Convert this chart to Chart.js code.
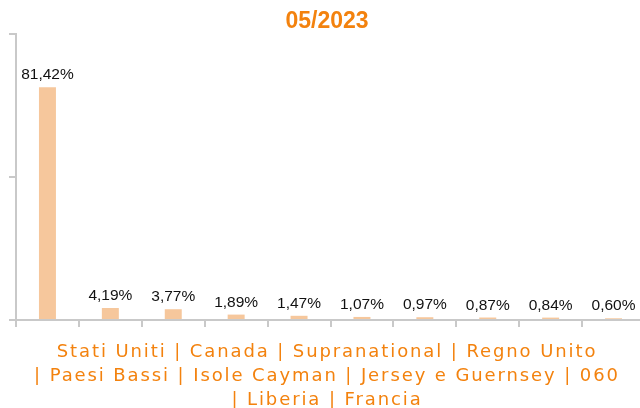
<!DOCTYPE html>
<html>
<head>
<meta charset="utf-8">
<script src="https://cdn.jsdelivr.net/npm/chart.js@4/dist/chart.umd.min.js"></script>
<style>
html,body{margin:0;padding:0;background:#fff;overflow:hidden;}
#wrap{position:relative;width:654px;height:408px;}
</style>
</head>
<body>
<div id="wrap"><canvas id="c"></canvas></div>
<script>
const chartTitle = '05/2023';
const categories = ['Stati Uniti','Canada','Supranational','Regno Unito','Paesi Bassi','Isole Cayman','Jersey e Guernsey','060','Liberia','Francia'];
const values = [81.42, 4.19, 3.77, 1.89, 1.47, 1.07, 0.97, 0.87, 0.84, 0.60];
const yTicks = [0, 50, 100];
const titleBreaks = [4, 8]; // category indexes where wrapped lines start

const ORANGE = '#F3820E';
const BAR = '#F6C79C';
const AXIS = '#C9C9C9';

function fmt(v){ return v.toFixed(2).replace('.', ',') + '%'; }

function titleLines(){
  const lines = [];
  let start = 0;
  [...titleBreaks, categories.length].forEach((end, i) => {
    const part = categories.slice(start, end).join(' | ');
    lines.push(i === 0 ? part : '| ' + part);
    start = end;
  });
  return lines;
}

const overlay = {
  id: 'overlay',
  afterDatasetsDraw(chart){
    const ctx = chart.ctx;
    const meta = chart.getDatasetMeta(0);
    ctx.save();
    ctx.fillStyle = '#111';
    ctx.font = '15.5px "Liberation Sans", Arial, sans-serif';
    ctx.textAlign = 'center';
    ctx.textBaseline = 'alphabetic';
    meta.data.forEach((bar, i) => {
      ctx.fillText(fmt(values[i]), bar.x, bar.y - 8);
    });
    // chart title
    ctx.fillStyle = ORANGE;
    ctx.font = 'bold 23px "Liberation Sans", Arial, sans-serif';
    ctx.textBaseline = 'middle';
    ctx.fillText(chartTitle, chart.width / 2, 22);
    // x-axis title
    ctx.font = '18px "DejaVu Sans", Verdana, sans-serif';
    ctx.letterSpacing = '1.9px';
    ctx.textBaseline = 'alphabetic';
    titleLines().forEach((ln, i) => {
      ctx.fillText(ln, chart.width / 2, 357 + i * 24);
    });
    ctx.letterSpacing = '0px';
    ctx.restore();
  }
};

new Chart(document.getElementById('c'), {
  type: 'bar',
  data: {
    labels: categories,
    datasets: [{
      data: values,
      backgroundColor: BAR,
      borderWidth: 0,
      barPercentage: 0.27,
      categoryPercentage: 1
    }]
  },
  options: {
    responsive: true,
    maintainAspectRatio: false,
    animation: false,
    layout: { padding: { top: 34, right: 9, left: 0, bottom: 0 } },
    plugins: { legend: { display: false }, tooltip: { enabled: false }, title: { display: false } },
    scales: {
      x: {
        afterFit(s){ s.height = 88; },
        grid: { display: true, drawOnChartArea: false, offset: true, tickLength: 7, color: AXIS, lineWidth: 2 },
        border: { display: true, color: AXIS, width: 2 },
        ticks: { display: false }
      },
      y: {
        min: 0, max: 100,
        afterFit(s){ s.width = 16; },
        afterBuildTicks(s){ s.ticks = yTicks.map(v => ({ value: v })); },
        grid: { display: true, drawOnChartArea: false, tickLength: 7, color: AXIS, lineWidth: 2 },
        border: { display: true, color: AXIS, width: 2 },
        ticks: { display: false }
      }
    }
  },
  plugins: [overlay]
});
</script>
</body>
</html>
